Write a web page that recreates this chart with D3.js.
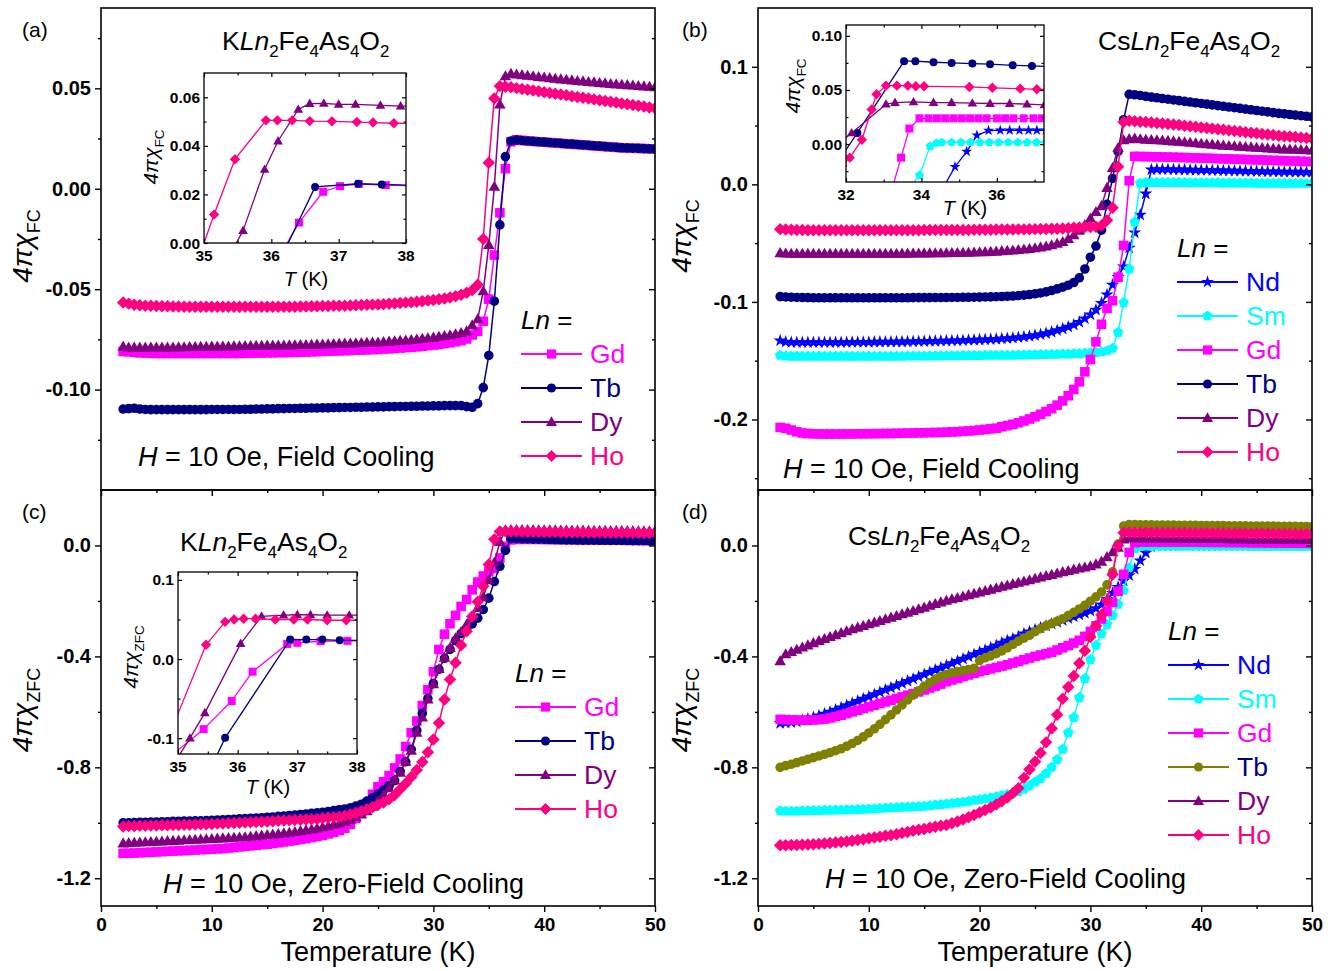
<!DOCTYPE html>
<html>
<head>
<meta charset="utf-8">
<script src="https://cdn.jsdelivr.net/npm/d3@7"></script>
<style>
  html, body { margin: 0; padding: 0; background: #fff; }
  svg { display: block; font-family: "Liberation Sans", Arial, Helvetica, sans-serif; }
</style>
</head>
<body>
<svg id="fig" width="1335" height="971"></svg>
<script>
// ---------------------------------------------------------------------------
// Measurement temperatures (K), shared by all main panels
const temps = [
  2,2.5,3,3.5,4,4.5,5,5.5,6,6.5,
  7,7.5,8,8.5,9,9.5,10,10.5,11,11.5,
  12,12.5,13,13.5,14,14.5,15,15.5,16,16.5,
  17,17.5,18,18.5,19,19.5,20,20.5,21,21.5,
  22,22.5,23,23.5,24,24.5,25,25.5,26,26.5,
  27,27.5,28,28.5,29,29.5,30,30.5,31,31.5,
  32,32.5,33,33.5,34,34.5,35,35.5,36,36.5,
  37,37.5,38,38.5,39,39.5,40,40.5,41,41.5,
  42,42.5,43,43.5,44,44.5,45,45.5,46,46.5,
  47,47.5,48,48.5,49,49.5,50
];

// (a) KLn2Fe4As4O2, field cooling, 4πχ_FC
const aGd = [
  -0.081,-0.0812,-0.0815,-0.0817,-0.0818,-0.0819,-0.082,-0.082,-0.082,-0.082,
  -0.082,-0.082,-0.082,-0.082,-0.082,-0.082,-0.082,-0.082,-0.082,-0.082,
  -0.082,-0.082,-0.0819,-0.0819,-0.0818,-0.0818,-0.0817,-0.0817,-0.0816,-0.0816,
  -0.0815,-0.0815,-0.0814,-0.0813,-0.0812,-0.0811,-0.081,-0.0809,-0.0808,-0.0807,
  -0.0806,-0.0805,-0.0804,-0.0803,-0.0802,-0.0801,-0.08,-0.0798,-0.0797,-0.0795,
  -0.0793,-0.0791,-0.0789,-0.0787,-0.0784,-0.0781,-0.0778,-0.0775,-0.0771,-0.0767,
  -0.0762,-0.0756,-0.0748,-0.0728,-0.071,-0.066,-0.055,-0.033,-0.012,0.01,
  0.0234,0.0244,0.0241,0.0238,0.0236,0.0234,0.0232,0.023,0.0228,0.0226,
  0.0224,0.0222,0.022,0.0218,0.0216,0.0214,0.0212,0.021,0.0208,0.0206,
  0.0204,0.0203,0.0202,0.0201,0.02,0.0199,0.0198
];
const aTb = [
  -0.1097,-0.1095,-0.1093,-0.1097,-0.1099,-0.11,-0.11,-0.11,-0.11,-0.11,
  -0.11,-0.11,-0.11,-0.11,-0.11,-0.11,-0.1099,-0.1099,-0.1099,-0.1099,
  -0.1099,-0.1099,-0.1098,-0.1098,-0.1097,-0.1097,-0.1096,-0.1096,-0.1095,-0.1095,
  -0.1094,-0.1094,-0.1093,-0.1093,-0.1092,-0.1092,-0.1091,-0.1091,-0.109,-0.109,
  -0.1089,-0.1089,-0.1088,-0.1088,-0.1087,-0.1087,-0.1086,-0.1086,-0.1085,-0.1085,
  -0.1084,-0.1084,-0.1083,-0.1083,-0.1082,-0.1082,-0.1081,-0.1081,-0.108,-0.108,
  -0.108,-0.108,-0.1085,-0.1088,-0.107,-0.099,-0.083,-0.056,-0.018,0.016,
  0.0238,0.0242,0.024,0.0238,0.0236,0.0234,0.0232,0.023,0.0228,0.0226,
  0.0224,0.0222,0.022,0.0218,0.0216,0.0214,0.0212,0.021,0.0208,0.0206,
  0.0204,0.0203,0.0202,0.0201,0.02,0.0199,0.0198
];
const aDy = [
  -0.0786,-0.079,-0.0791,-0.0791,-0.0791,-0.079,-0.079,-0.079,-0.079,-0.079,
  -0.0789,-0.0789,-0.0788,-0.0788,-0.0787,-0.0787,-0.0786,-0.0786,-0.0785,-0.0785,
  -0.0784,-0.0784,-0.0783,-0.0783,-0.0782,-0.0782,-0.0781,-0.0781,-0.078,-0.078,
  -0.0779,-0.0779,-0.0778,-0.0778,-0.0777,-0.0776,-0.0775,-0.0774,-0.0773,-0.0772,
  -0.0771,-0.077,-0.0769,-0.0768,-0.0767,-0.0766,-0.0765,-0.0763,-0.0761,-0.0759,
  -0.0757,-0.0755,-0.0753,-0.075,-0.0747,-0.0744,-0.0741,-0.0737,-0.0733,-0.0729,
  -0.0724,-0.0718,-0.071,-0.068,-0.065,-0.051,-0.028,0.001,0.042,0.056,
  0.0572,0.0569,0.0566,0.0563,0.056,0.0557,0.0554,0.0551,0.0548,0.0545,
  0.0543,0.054,0.0537,0.0535,0.0532,0.053,0.0527,0.0525,0.0522,0.052,
  0.0518,0.0516,0.0514,0.0512,0.051,0.0508,0.0506
];
const aHo = [
  -0.0566,-0.0572,-0.0578,-0.058,-0.0582,-0.0583,-0.0584,-0.0585,-0.0585,-0.0586,
  -0.0586,-0.0587,-0.0587,-0.0588,-0.0588,-0.0588,-0.0588,-0.0588,-0.0588,-0.0588,
  -0.0588,-0.0588,-0.0588,-0.0588,-0.0588,-0.0588,-0.0588,-0.0588,-0.0587,-0.0587,
  -0.0587,-0.0587,-0.0586,-0.0586,-0.0585,-0.0585,-0.0584,-0.0584,-0.0583,-0.0583,
  -0.0582,-0.0581,-0.058,-0.0579,-0.0578,-0.0577,-0.0576,-0.0575,-0.0573,-0.0571,
  -0.0569,-0.0567,-0.0565,-0.0563,-0.056,-0.0557,-0.0554,-0.055,-0.0546,-0.0541,
  -0.0535,-0.0528,-0.0518,-0.0505,-0.0478,-0.025,0.013,0.045,0.0511,0.0508,
  0.0505,0.0501,0.0497,0.0493,0.0489,0.0485,0.0481,0.0477,0.0473,0.0469,
  0.0465,0.0461,0.0457,0.0453,0.0449,0.0445,0.0441,0.0437,0.0433,0.0429,
  0.0425,0.0421,0.0417,0.0413,0.0409,0.0405,0.0401
];

// (b) CsLn2Fe4As4O2, field cooling, 4πχ_FC
const bNd = [
  -0.133,-0.134,-0.1345,-0.1345,-0.1345,-0.1345,-0.1345,-0.1345,-0.1345,-0.1345,
  -0.1345,-0.1344,-0.1344,-0.1343,-0.1343,-0.1342,-0.1342,-0.1341,-0.1341,-0.134,
  -0.134,-0.1339,-0.1339,-0.1338,-0.1337,-0.1336,-0.1335,-0.1334,-0.1333,-0.1332,
  -0.1331,-0.133,-0.1329,-0.1328,-0.1326,-0.1324,-0.1322,-0.132,-0.1318,-0.1316,
  -0.1313,-0.131,-0.1306,-0.1302,-0.1297,-0.1291,-0.1284,-0.1276,-0.1267,-0.1256,
  -0.1243,-0.1229,-0.1213,-0.1196,-0.1172,-0.1142,-0.1108,-0.1068,-0.101,-0.0938,
  -0.0855,-0.079,-0.07,-0.054,-0.041,-0.026,-0.008,0.0125,0.0128,0.0127,
  0.0127,0.0126,0.0125,0.0124,0.0123,0.0122,0.0121,0.012,0.0119,0.0118,
  0.0117,0.0116,0.0115,0.0114,0.0113,0.0112,0.0111,0.011,0.0109,0.0108,
  0.0107,0.0106,0.0106,0.0105,0.0105,0.0104,0.0104
];
const bSm = [
  -0.1455,-0.146,-0.1462,-0.1463,-0.1463,-0.1463,-0.1463,-0.1463,-0.1463,-0.1463,
  -0.1463,-0.1463,-0.1463,-0.1463,-0.1463,-0.1463,-0.1463,-0.1463,-0.1463,-0.1463,
  -0.1462,-0.1462,-0.1462,-0.1461,-0.1461,-0.1461,-0.146,-0.146,-0.146,-0.1459,
  -0.1459,-0.1458,-0.1458,-0.1457,-0.1457,-0.1456,-0.1456,-0.1455,-0.1455,-0.1454,
  -0.1454,-0.1453,-0.1453,-0.1452,-0.1451,-0.145,-0.1449,-0.1448,-0.1447,-0.1446,
  -0.1445,-0.1444,-0.1443,-0.1441,-0.1439,-0.1437,-0.1434,-0.1431,-0.1425,-0.1415,
  -0.1395,-0.126,-0.1005,-0.072,-0.032,0.001,0.0016,0.0016,0.0016,0.0016,
  0.0016,0.0015,0.0015,0.0015,0.0014,0.0014,0.0014,0.0013,0.0013,0.0013,
  0.0012,0.0012,0.0012,0.0011,0.0011,0.0011,0.001,0.001,0.001,0.0009,
  0.0009,0.0009,0.0008,0.0008,0.0008,0.0008,0.0008
];
const bGd = [
  -0.2068,-0.2075,-0.209,-0.2105,-0.2115,-0.212,-0.2122,-0.2123,-0.2124,-0.2124,
  -0.2124,-0.2124,-0.2123,-0.2123,-0.2122,-0.2122,-0.2121,-0.2121,-0.212,-0.212,
  -0.2119,-0.2118,-0.2117,-0.2116,-0.2115,-0.2114,-0.2113,-0.2112,-0.2111,-0.211,
  -0.2108,-0.2106,-0.2104,-0.2101,-0.2098,-0.2094,-0.209,-0.2085,-0.208,-0.2074,
  -0.2062,-0.2052,-0.2041,-0.2028,-0.2013,-0.1996,-0.1977,-0.1956,-0.1933,-0.1908,
  -0.1878,-0.1842,-0.1798,-0.1745,-0.168,-0.1595,-0.149,-0.134,-0.119,-0.1055,
  -0.099,-0.079,-0.052,0.003,0.0238,0.0237,0.0236,0.0235,0.0234,0.0233,
  0.0232,0.0231,0.0229,0.0228,0.0226,0.0225,0.0223,0.0222,0.022,0.0219,
  0.0217,0.0216,0.0214,0.0213,0.0211,0.021,0.0208,0.0207,0.0205,0.0204,
  0.0202,0.0201,0.0199,0.0198,0.0196,0.0195,0.0193
];
const bTb = [
  -0.0955,-0.0958,-0.096,-0.0962,-0.0963,-0.0964,-0.0965,-0.0965,-0.0965,-0.0965,
  -0.0965,-0.0965,-0.0965,-0.0965,-0.0965,-0.0965,-0.0965,-0.0965,-0.0965,-0.0965,
  -0.0965,-0.0965,-0.0965,-0.0965,-0.0964,-0.0964,-0.0964,-0.0964,-0.0963,-0.0963,
  -0.0963,-0.0962,-0.0962,-0.0961,-0.0961,-0.096,-0.0959,-0.0958,-0.0957,-0.0956,
  -0.0954,-0.0952,-0.095,-0.0946,-0.0942,-0.0937,-0.0931,-0.0924,-0.0915,-0.0903,
  -0.0889,-0.0875,-0.0858,-0.0835,-0.0795,-0.072,-0.062,-0.0525,-0.039,-0.017,
  0.005,0.028,0.055,0.0766,0.0762,0.0756,0.0748,0.0742,0.0736,0.073,
  0.0724,0.0718,0.0712,0.0706,0.07,0.0694,0.0688,0.0682,0.0676,0.067,
  0.0664,0.0658,0.0652,0.0646,0.064,0.0634,0.0628,0.0622,0.0616,0.061,
  0.0604,0.0599,0.0594,0.0589,0.0584,0.0579,0.0574
];
const bDy = [
  -0.0585,-0.0588,-0.059,-0.059,-0.059,-0.059,-0.059,-0.059,-0.059,-0.059,
  -0.059,-0.059,-0.059,-0.059,-0.059,-0.059,-0.059,-0.059,-0.059,-0.059,
  -0.059,-0.059,-0.0589,-0.0589,-0.0588,-0.0588,-0.0587,-0.0587,-0.0586,-0.0586,
  -0.0585,-0.0584,-0.0583,-0.0582,-0.0581,-0.058,-0.0578,-0.0576,-0.0574,-0.0572,
  -0.0568,-0.0565,-0.0562,-0.0558,-0.0554,-0.0549,-0.0543,-0.0536,-0.0528,-0.0518,
  -0.0505,-0.049,-0.0465,-0.0432,-0.0395,-0.0345,-0.029,-0.0235,-0.0185,-0.003,
  0.014,0.031,0.0375,0.0385,0.039,0.0384,0.038,0.0378,0.0376,0.0373,
  0.037,0.0366,0.0362,0.0358,0.0354,0.035,0.0346,0.0342,0.0338,0.0334,
  0.033,0.0327,0.0324,0.0321,0.0318,0.0315,0.0312,0.0309,0.0306,0.0303,
  0.03,0.0298,0.0296,0.0294,0.0292,0.029,0.0288
];
const bHo = [
  -0.0381,-0.0385,-0.0387,-0.0388,-0.0389,-0.039,-0.039,-0.039,-0.039,-0.039,
  -0.039,-0.039,-0.039,-0.039,-0.039,-0.039,-0.039,-0.039,-0.039,-0.039,
  -0.039,-0.039,-0.039,-0.039,-0.039,-0.039,-0.0389,-0.0389,-0.0389,-0.0389,
  -0.0389,-0.0389,-0.0388,-0.0388,-0.0388,-0.0387,-0.0387,-0.0386,-0.0386,-0.0385,
  -0.0385,-0.0384,-0.0384,-0.0383,-0.0383,-0.0382,-0.0381,-0.038,-0.0379,-0.0378,
  -0.0377,-0.0375,-0.0373,-0.037,-0.0367,-0.0364,-0.0362,-0.036,-0.035,-0.0305,
  -0.02,0.015,0.053,0.054,0.0536,0.0533,0.053,0.0526,0.0522,0.0518,
  0.0514,0.0509,0.0504,0.0499,0.0494,0.0489,0.0484,0.0479,0.0474,0.0469,
  0.0464,0.0459,0.0454,0.0449,0.0444,0.0439,0.0434,0.0429,0.0424,0.0419,
  0.0414,0.041,0.0406,0.0402,0.0398,0.0394,0.039
];

// (c) KLn2Fe4As4O2, zero-field cooling, 4πχ_ZFC
const cGd = [
  -1.11,-1.11,-1.109,-1.108,-1.107,-1.106,-1.105,-1.104,-1.103,-1.102,
  -1.101,-1.1,-1.099,-1.098,-1.097,-1.096,-1.095,-1.094,-1.093,-1.091,
  -1.089,-1.087,-1.085,-1.083,-1.081,-1.079,-1.077,-1.075,-1.072,-1.069,
  -1.066,-1.063,-1.06,-1.057,-1.053,-1.049,-1.045,-1.04,-1.035,-1.028,
  -1.02,-1.005,-0.985,-0.96,-0.93,-0.897,-0.87,-0.852,-0.83,-0.802,
  -0.77,-0.725,-0.675,-0.633,-0.577,-0.52,-0.455,-0.375,-0.32,-0.282,
  -0.252,-0.22,-0.195,-0.16,-0.132,-0.11,-0.095,-0.083,-0.045,-0.003,
  0.02,0.022,0.022,0.022,0.022,0.0218,0.0216,0.0214,0.0212,0.021,
  0.0208,0.0206,0.0204,0.0202,0.02,0.0198,0.0196,0.0194,0.0192,0.019,
  0.0188,0.0186,0.0184,0.0182,0.018,0.0178,0.0176
];
const cTb = [
  -1.0,-1.0,-0.999,-0.998,-0.998,-0.997,-0.997,-0.996,-0.996,-0.995,
  -0.995,-0.994,-0.994,-0.993,-0.993,-0.992,-0.991,-0.99,-0.989,-0.988,
  -0.987,-0.986,-0.985,-0.984,-0.983,-0.982,-0.98,-0.979,-0.977,-0.976,
  -0.974,-0.972,-0.97,-0.968,-0.966,-0.964,-0.962,-0.959,-0.956,-0.953,
  -0.95,-0.946,-0.94,-0.933,-0.922,-0.91,-0.897,-0.882,-0.866,-0.848,
  -0.815,-0.78,-0.735,-0.667,-0.605,-0.552,-0.498,-0.447,-0.407,-0.375,
  -0.343,-0.318,-0.3,-0.283,-0.262,-0.231,-0.19,-0.13,-0.075,-0.018,
  0.0246,0.0245,0.024,0.0235,0.023,0.0225,0.022,0.0215,0.021,0.0205,
  0.02,0.0198,0.0196,0.0194,0.0192,0.019,0.0188,0.0186,0.0184,0.0182,
  0.018,0.0178,0.0176,0.0174,0.0172,0.017,0.0168
];
const cDy = [
  -1.074,-1.073,-1.072,-1.071,-1.07,-1.069,-1.068,-1.067,-1.066,-1.065,
  -1.064,-1.063,-1.062,-1.061,-1.06,-1.059,-1.058,-1.057,-1.056,-1.055,
  -1.054,-1.053,-1.052,-1.05,-1.048,-1.046,-1.044,-1.042,-1.04,-1.038,
  -1.036,-1.033,-1.03,-1.027,-1.024,-1.02,-1.016,-1.012,-1.007,-1.002,
  -0.996,-0.989,-0.98,-0.97,-0.958,-0.942,-0.922,-0.9,-0.875,-0.847,
  -0.819,-0.78,-0.74,-0.675,-0.62,-0.555,-0.5,-0.445,-0.405,-0.369,
  -0.335,-0.312,-0.285,-0.256,-0.225,-0.186,-0.125,-0.061,0.013,0.055,
  0.0555,0.056,0.0558,0.0556,0.0554,0.0552,0.055,0.0548,0.0546,0.0544,
  0.0542,0.054,0.0538,0.0536,0.0534,0.0532,0.053,0.0528,0.0526,0.0524,
  0.0522,0.052,0.0518,0.0516,0.0514,0.0512,0.051
];
const cHo = [
  -1.013,-1.012,-1.012,-1.011,-1.011,-1.01,-1.01,-1.009,-1.009,-1.008,
  -1.008,-1.007,-1.007,-1.006,-1.005,-1.005,-1.004,-1.003,-1.003,-1.002,
  -1.001,-1.0,-0.999,-0.998,-0.997,-0.996,-0.995,-0.994,-0.993,-0.992,
  -0.991,-0.99,-0.989,-0.988,-0.987,-0.986,-0.984,-0.982,-0.98,-0.978,
  -0.975,-0.97,-0.965,-0.958,-0.951,-0.944,-0.936,-0.927,-0.915,-0.9,
  -0.879,-0.858,-0.835,-0.81,-0.781,-0.746,-0.7,-0.64,-0.555,-0.483,
  -0.423,-0.36,-0.309,-0.256,-0.203,-0.147,-0.069,0.022,0.05,0.051,
  0.05,0.05,0.0498,0.0495,0.049,0.0488,0.0486,0.0484,0.0482,0.048,
  0.0478,0.0476,0.0474,0.0472,0.047,0.0468,0.0466,0.0464,0.0462,0.046,
  0.0458,0.0456,0.0454,0.0452,0.045,0.0448,0.0446
];

// (d) CsLn2Fe4As4O2, zero-field cooling, 4πχ_ZFC
const dNd = [
  -0.641,-0.64,-0.638,-0.635,-0.631,-0.626,-0.62,-0.614,-0.607,-0.6,
  -0.593,-0.585,-0.577,-0.569,-0.561,-0.553,-0.545,-0.537,-0.529,-0.521,
  -0.513,-0.505,-0.497,-0.489,-0.481,-0.473,-0.465,-0.457,-0.449,-0.441,
  -0.433,-0.425,-0.417,-0.409,-0.401,-0.393,-0.385,-0.377,-0.369,-0.361,
  -0.351,-0.343,-0.336,-0.329,-0.318,-0.311,-0.304,-0.297,-0.29,-0.283,
  -0.276,-0.27,-0.263,-0.257,-0.25,-0.244,-0.236,-0.227,-0.213,-0.194,
  -0.172,-0.15,-0.128,-0.108,-0.085,-0.055,-0.027,-0.004,0.0,0.0,
  0.0,0.0,0.0,0.0,0.0,0.0,0.0,0.0,0.0,0.0,
  0.0,0.0,0.0,0.0,0.0,0.0,0.0,0.0,0.0,0.0,
  0.0,0.0,0.0,0.0,0.0,0.0,0.0
];
const dSm = [
  -0.957,-0.958,-0.958,-0.958,-0.957,-0.957,-0.956,-0.956,-0.955,-0.955,
  -0.954,-0.954,-0.953,-0.953,-0.952,-0.951,-0.95,-0.949,-0.948,-0.947,
  -0.946,-0.945,-0.944,-0.943,-0.942,-0.941,-0.94,-0.938,-0.936,-0.934,
  -0.932,-0.93,-0.928,-0.925,-0.922,-0.919,-0.916,-0.913,-0.91,-0.906,
  -0.902,-0.898,-0.893,-0.887,-0.878,-0.866,-0.853,-0.84,-0.822,-0.8,
  -0.772,-0.735,-0.675,-0.62,-0.548,-0.48,-0.411,-0.36,-0.318,-0.285,
  -0.253,-0.212,-0.162,-0.08,-0.012,-0.002,-0.002,-0.002,-0.002,-0.002,
  -0.002,-0.002,-0.002,-0.002,-0.002,-0.002,-0.002,-0.002,-0.002,-0.002,
  -0.002,-0.002,-0.002,-0.002,-0.002,-0.003,-0.003,-0.003,-0.003,-0.003,
  -0.003,-0.003,-0.003,-0.003,-0.003,-0.003,-0.003
];
const dGd = [
  -0.627,-0.628,-0.629,-0.63,-0.63,-0.63,-0.629,-0.628,-0.626,-0.622,
  -0.617,-0.612,-0.606,-0.6,-0.594,-0.588,-0.582,-0.576,-0.57,-0.564,
  -0.558,-0.552,-0.546,-0.54,-0.534,-0.528,-0.521,-0.514,-0.507,-0.5,
  -0.491,-0.485,-0.479,-0.473,-0.467,-0.461,-0.455,-0.45,-0.445,-0.44,
  -0.435,-0.43,-0.424,-0.418,-0.412,-0.406,-0.4,-0.395,-0.39,-0.385,
  -0.377,-0.369,-0.361,-0.352,-0.342,-0.328,-0.31,-0.29,-0.265,-0.238,
  -0.205,-0.165,-0.104,-0.025,0.01,0.012,0.012,0.012,0.012,0.012,
  0.012,0.012,0.012,0.012,0.012,0.0118,0.0116,0.0114,0.0112,0.011,
  0.0108,0.0106,0.0104,0.0102,0.01,0.0098,0.0096,0.0094,0.0092,0.009,
  0.0088,0.0086,0.0084,0.0082,0.008,0.0078,0.0076
];
const dTb = [
  -0.8,-0.794,-0.789,-0.783,-0.777,-0.771,-0.765,-0.759,-0.753,-0.747,
  -0.74,-0.733,-0.724,-0.714,-0.703,-0.69,-0.676,-0.661,-0.645,-0.628,
  -0.611,-0.593,-0.575,-0.557,-0.54,-0.524,-0.508,-0.494,-0.482,-0.472,
  -0.465,-0.459,-0.455,-0.451,-0.447,-0.443,-0.415,-0.405,-0.398,-0.39,
  -0.38,-0.369,-0.357,-0.345,-0.334,-0.324,-0.311,-0.3,-0.29,-0.282,
  -0.273,-0.264,-0.253,-0.241,-0.229,-0.216,-0.201,-0.185,-0.168,-0.142,
  -0.095,0.005,0.07,0.075,0.075,0.0748,0.0745,0.0742,0.074,0.0738,
  0.0735,0.0732,0.073,0.0728,0.0726,0.0724,0.0722,0.072,0.0718,0.0716,
  0.0714,0.0712,0.071,0.0708,0.0706,0.0704,0.0702,0.07,0.0698,0.0696,
  0.0694,0.0692,0.069,0.0688,0.0686,0.0684,0.0682
];
const dDy = [
  -0.417,-0.392,-0.384,-0.376,-0.368,-0.36,-0.352,-0.344,-0.337,-0.33,
  -0.323,-0.316,-0.309,-0.302,-0.296,-0.29,-0.284,-0.278,-0.272,-0.266,
  -0.26,-0.254,-0.248,-0.242,-0.236,-0.23,-0.224,-0.217,-0.211,-0.205,
  -0.199,-0.194,-0.189,-0.184,-0.179,-0.174,-0.169,-0.164,-0.159,-0.154,
  -0.149,-0.144,-0.139,-0.134,-0.13,-0.125,-0.12,-0.115,-0.11,-0.106,
  -0.101,-0.096,-0.092,-0.087,-0.083,-0.079,-0.075,-0.068,-0.058,-0.042,
  -0.024,-0.008,0.022,0.026,0.026,0.026,0.025,0.025,0.025,0.025,
  0.025,0.025,0.0248,0.0246,0.0244,0.0242,0.024,0.0238,0.0236,0.0234,
  0.0232,0.023,0.0228,0.0226,0.0224,0.0222,0.022,0.0218,0.0216,0.0214,
  0.0212,0.021,0.0208,0.0206,0.0204,0.0202,0.02
];
const dHo = [
  -1.081,-1.081,-1.08,-1.08,-1.079,-1.078,-1.077,-1.076,-1.075,-1.073,
  -1.071,-1.069,-1.067,-1.065,-1.062,-1.059,-1.056,-1.053,-1.05,-1.047,
  -1.045,-1.041,-1.037,-1.033,-1.029,-1.025,-1.022,-1.018,-1.014,-1.011,
  -1.008,-1.002,-0.995,-0.988,-0.98,-0.972,-0.963,-0.954,-0.945,-0.934,
  -0.922,-0.909,-0.893,-0.875,-0.838,-0.808,-0.78,-0.748,-0.71,-0.66,
  -0.61,-0.553,-0.51,-0.471,-0.425,-0.38,-0.33,-0.29,-0.25,-0.2,
  -0.105,0.0,0.046,0.047,0.047,0.047,0.047,0.047,0.046,0.046,
  0.046,0.046,0.0458,0.0456,0.0454,0.0452,0.045,0.0448,0.0446,0.0444,
  0.0442,0.044,0.0438,0.0436,0.0434,0.0432,0.043,0.0428,0.0426,0.0424,
  0.0422,0.042,0.0418,0.0416,0.0414,0.0412,0.041
];

// Insets: close-ups of the transition, [T (K), 4πχ] pairs
const iaGd = [[36.0,-0.0115],[36.41,0.0084],[36.77,0.0211],[37.02,0.0234],[37.3,0.0243],[37.7,0.0238],[38.1,0.0236]];
const iaTb = [[36.05,-0.0116],[36.65,0.0231],[37.29,0.0244],[37.64,0.0241],[38.1,0.0238]];
const iaDy = [[35.3,-0.0092],[35.58,0.0051],[35.9,0.0303],[36.1,0.042],[36.4,0.055],[36.57,0.0574],[36.78,0.0575],[37.0,0.0571],[37.25,0.0571],[37.62,0.0567],[37.92,0.0564],[38.1,0.0563]];
const iaHo = [[34.85,-0.0117],[35.15,0.0117],[35.46,0.0345],[35.92,0.0505],[36.09,0.0505],[36.31,0.0505],[36.57,0.0502],[36.9,0.0501],[37.27,0.0498],[37.51,0.0496],[37.82,0.0493],[38.1,0.0492]];

const ibNd = [[34.45,-0.048],[34.89,-0.021],[35.2,-0.0069],[35.47,0.0081],[35.78,0.0125],[36.09,0.0128],[36.34,0.0128],[36.6,0.0128],[36.84,0.0128],[37.06,0.0128],[37.3,0.0128]];
const ibSm = [[33.4,-0.0525],[33.95,-0.0287],[34.23,-0.0019],[34.4,0.0009],[34.54,0.0016],[34.8,0.0016],[35.05,0.0016],[35.3,0.0016],[35.55,0.0016],[35.8,0.0016],[36.05,0.0016],[36.3,0.0016],[36.55,0.0016],[36.8,0.0016],[37.05,0.0016],[37.3,0.0016]];
const ibGd = [[33.15,-0.05],[33.46,-0.0125],[33.68,0.0144],[33.95,0.0238],[34.19,0.0238],[34.41,0.0238],[34.63,0.0238],[34.85,0.0238],[35.07,0.0238],[35.29,0.0238],[35.51,0.0238],[35.73,0.0238],[36.0,0.0238],[36.22,0.0238],[36.44,0.0238],[36.71,0.0238],[36.97,0.0238],[37.19,0.0238]];
const ibTb = [[31.9,-0.0105],[32.3,0.0103],[33.54,0.0766],[33.84,0.0766],[34.32,0.0756],[34.8,0.075],[35.35,0.0744],[35.82,0.0738],[36.42,0.0728],[36.93,0.0722],[37.4,0.0716]];
const ibDy = [[31.9,0.003],[32.15,0.0103],[33.06,0.0369],[33.3,0.0384],[33.79,0.039],[34.32,0.0384],[34.8,0.0384],[35.35,0.0378],[35.82,0.0375],[36.34,0.0375],[36.8,0.0369],[37.26,0.0363]];
const ibHo = [[31.9,-0.02],[32.1,-0.0125],[32.42,0.004],[32.68,0.032],[32.81,0.046],[33.06,0.054],[33.35,0.054],[33.64,0.054],[33.85,0.0534],[34.07,0.0534],[35.27,0.0528],[35.88,0.052],[36.62,0.0512],[37.06,0.0506],[37.4,0.0503]];

const icGd = [[34.95,-0.118],[35.43,-0.0886],[35.9,-0.053],[36.25,-0.016],[36.83,0.019],[37.0,0.0205],[37.39,0.0225],[37.84,0.023],[38.1,0.023]];
const icTb = [[35.6,-0.13],[35.79,-0.0996],[36.88,0.0246],[37.15,0.0246],[37.42,0.0246],[37.71,0.0237],[38.1,0.0237]];
const icDy = [[34.95,-0.13],[35.2,-0.1],[35.45,-0.068],[36.05,0.0195],[36.4,0.054],[36.77,0.0555],[37.0,0.056],[37.22,0.056],[37.5,0.0555],[37.87,0.0555],[38.1,0.0553]];
const icHo = [[34.9,-0.0875],[35.47,0.018],[35.79,0.047],[35.94,0.05],[36.1,0.051],[36.3,0.051],[36.63,0.05],[36.94,0.05],[37.17,0.05],[37.5,0.049],[37.82,0.049],[38.1,0.049]];

// Tick values
const xMajor = [0, 10, 20, 30, 40, 50];
const xMinor = [5, 15, 25, 35, 45];
const aYMajor = [0.05, 0, -0.05, -0.1],  aYMinor = [0.075, 0.025, -0.025, -0.075, -0.125];
const bYMajor = [0.1, 0, -0.1, -0.2],    bYMinor = [0.05, -0.05, -0.15, -0.25];
const cdYMajor = [0, -0.4, -0.8, -1.2],  cdYMinor = [-0.2, -0.6, -1.0];
const iaX = [35, 36, 37, 38], iaXm = [35.5, 36.5, 37.5], iaY = [0, 0.02, 0.04, 0.06], iaYm = [0.01, 0.03, 0.05];
const ibX = [32, 34, 36], ibXm = [33, 35, 37], ibY = [0, 0.05, 0.1], ibYm = [-0.025, 0.025, 0.075];
const icX = [35, 36, 37, 38], icXm = [35.5, 36.5, 37.5], icY = [-0.1, 0, 0.1], icYm = [-0.05, 0.05];

// ---------------------------------------------------------------------------
const STYLE = {
  Nd: { color: "#0000ff", mark: "star" },
  Sm: { color: "#00ffff", mark: "pentagon" },
  Gd: { color: "#ff00ff", mark: "square" },
  Tb: { color: "#000080", mark: "circle" },
  Dy: { color: "#800080", mark: "triangle" },
  Ho: { color: "#ff0080", mark: "diamond" }
};
const OLIVE = "#808000";

function markerPath(kind, r) {
  if (kind === "square") return `M${-r},${-r}H${r}V${r}H${-r}Z`;
  if (kind === "circle") return `M${r},0A${r},${r},0,1,1,${-r},0A${r},${r},0,1,1,${r},0Z`;
  if (kind === "triangle") {
    const t = -1.25 * r, b = 0.85 * r, w = 1.2 * r;
    return `M0,${t}L${w},${b}L${-w},${b}Z`;
  }
  if (kind === "diamond") {
    const d = 1.3 * r;
    return `M0,${-d}L${d},0L0,${d}L${-d},0Z`;
  }
  const star = kind === "star";
  const n = star ? 10 : 5, R = star ? 1.45 * r : 1.15 * r, rin = 0.55 * r;
  let s = "";
  for (let k = 0; k < n; k++) {
    const a = -Math.PI / 2 + k * 2 * Math.PI / n;
    const rr = star ? (k % 2 ? rin : R) : R;
    s += (k ? "L" : "M") + (rr * Math.cos(a)).toFixed(2) + "," + (rr * Math.sin(a)).toFixed(2);
  }
  return s + "Z";
}

const svg = d3.select("#fig");
const defs = svg.append("defs");
let clipCount = 0;

function clipRect(x0, y0, x1, y1) {
  const id = "clip" + (clipCount++);
  defs.append("clipPath").attr("id", id)
    .append("rect").attr("x", x0).attr("y", y0).attr("width", x1 - x0).attr("height", y1 - y0);
  return `url(#${id})`;
}

function drawSeries(g, x, y, pts, color, mark, r, lw) {
  g.append("path").datum(pts)
    .attr("fill", "none").attr("stroke", color).attr("stroke-width", lw)
    .attr("stroke-linejoin", "round")
    .attr("d", d3.line().x(d => x(d[0])).y(d => y(d[1])));
  g.append("g").selectAll("path").data(pts).enter().append("path")
    .attr("d", markerPath(mark, r))
    .attr("transform", d => `translate(${x(d[0])},${y(d[1])})`)
    .attr("fill", color);
}

// Rich text with italic parts and subscripts
function rich(parent, x, y, parts, size, opts = {}) {
  const t = parent.append("text")
    .attr("x", x).attr("y", y)
    .attr("font-size", size)
    .attr("fill", opts.fill || "#000")
    .attr("text-anchor", opts.anchor || "start");
  if (opts.rotate) t.attr("transform", `rotate(-90,${x},${y})`);
  let shift = 0;
  parts.forEach(p => {
    const target = p.sub ? size * 0.28 : 0;
    const ts = t.append("tspan").text(p.t).attr("dy", target - shift);
    shift = target;
    if (p.sub) ts.attr("font-size", size * 0.64);
    if (p.i) ts.attr("font-style", "italic");
  });
  return t;
}

function styleAxis(g, fontSize, lw) {
  g.select(".domain").remove();
  g.attr("font-family", null).attr("font-size", null);
  g.selectAll(".tick line").attr("stroke", "#000").attr("stroke-width", lw);
  g.selectAll(".tick text")
    .attr("fill", "#000")
    .attr("font-size", fontSize)
    .attr("font-weight", "bold");
}

// Main panel
function drawPanel(p) {
  const x = d3.scaleLinear().domain([0, 50]).range([p.x0, p.x1]);
  const y = d3.scaleLinear().domain(p.yDomain).range([p.y1, p.y0]);

  const data = svg.append("g").attr("clip-path", clipRect(p.x0, p.y0, p.x1, p.y1));
  p.series.forEach(s => {
    const st = STYLE[s.name];
    const pts = temps.map((t, i) => [t, s.values[i]]).filter(d => d[1] !== undefined);
    drawSeries(data, x, y, pts, s.color || st.color, st.mark, 4.8, 1.5);
  });

  const lw = 1.4;
  // left axis: outward ticks with labels
  styleAxis(svg.append("g").attr("transform", `translate(${p.x0},0)`)
    .call(d3.axisLeft(y).tickValues(p.yMajor).tickSize(6).tickSizeOuter(0).tickPadding(4)
      .tickFormat(d => d.toFixed(p.dec))), 20, lw);
  styleAxis(svg.append("g").attr("transform", `translate(${p.x0},0)`)
    .call(d3.axisLeft(y).tickValues(p.yMinor).tickSize(3).tickSizeOuter(0).tickFormat("")), 20, lw);
  // right axis: inward ticks
  styleAxis(svg.append("g").attr("transform", `translate(${p.x1},0)`)
    .call(d3.axisLeft(y).tickValues(p.yMajor).tickSize(6).tickSizeOuter(0).tickFormat("")), 20, lw);
  styleAxis(svg.append("g").attr("transform", `translate(${p.x1},0)`)
    .call(d3.axisLeft(y).tickValues(p.yMinor).tickSize(3).tickSizeOuter(0).tickFormat("")), 20, lw);
  // bottom axis
  styleAxis(svg.append("g").attr("transform", `translate(0,${p.y1})`)
    .call(d3.axisBottom(x).tickValues(xMajor).tickSize(6).tickSizeOuter(0).tickPadding(6)
      .tickFormat(p.xLabels ? d3.format("d") : "")), 19, lw);
  styleAxis(svg.append("g").attr("transform", `translate(0,${p.y1})`)
    .call(d3.axisBottom(x).tickValues(xMinor).tickSize(3).tickSizeOuter(0).tickFormat("")), 19, lw);

  svg.append("rect")
    .attr("x", p.x0).attr("y", p.y0).attr("width", p.x1 - p.x0).attr("height", p.y1 - p.y0)
    .attr("fill", "none").attr("stroke", "#000").attr("stroke-width", 1.6);

  // panel tag
  svg.append("text").attr("x", p.tag[1]).attr("y", p.tag[2]).attr("font-size", 21).text(p.tag[0]);

  // y-axis title
  rich(svg, p.yTitle[0], p.yTitle[1], [{ t: "4πχ", i: true }, { t: p.yTitle[2], sub: true }], 28,
    { anchor: "middle", rotate: true });

  // x-axis title
  if (p.xLabels) {
    svg.append("text").attr("x", (p.x0 + p.x1) / 2).attr("y", 961)
      .attr("text-anchor", "middle").attr("font-size", 27).text("Temperature (K)");
  }

  // compound name
  rich(svg, p.name[0], p.name[1],
    [{ t: p.cation }, { t: "Ln", i: true }, { t: "2", sub: true }, { t: "Fe" }, { t: "4", sub: true },
     { t: "As" }, { t: "4", sub: true }, { t: "O" }, { t: "2", sub: true }], 26.5);

  // measurement condition
  rich(svg, p.cond[0], p.cond[1], [{ t: "H", i: true }, { t: " = 10 Oe, " + p.cond[2] }], 27);

  // legend
  const L = p.legend;
  rich(svg, L.x, L.y0 + 9, [{ t: "Ln", i: true }, { t: " =" }], 26);
  p.series.forEach((s, k) => {
    const st = STYLE[s.name];
    const col = s.color || st.color;
    const yy = L.y0 + 34 * (k + 1);
    svg.append("line").attr("x1", L.x).attr("x2", L.x + 61).attr("y1", yy).attr("y2", yy)
      .attr("stroke", col).attr("stroke-width", 1.8);
    svg.append("path").attr("d", markerPath(st.mark, 4.6))
      .attr("transform", `translate(${L.x + 30.5},${yy})`).attr("fill", col);
    svg.append("text").attr("x", L.x + 69).attr("y", yy + 9).attr("font-size", 26.5)
      .attr("fill", s.labelColor || st.color).text(s.name);
  });
}

// Inset panel
function drawInset(q) {
  const x = d3.scaleLinear().domain(q.xDomain).range([q.x0, q.x1]);
  const y = d3.scaleLinear().domain(q.yDomain).range([q.y1, q.y0]);
  svg.append("rect").attr("x", q.x0).attr("y", q.y0).attr("width", q.x1 - q.x0).attr("height", q.y1 - q.y0)
    .attr("fill", "#fff");
  const data = svg.append("g").attr("clip-path", clipRect(q.x0, q.y0, q.x1, q.y1));
  q.series.forEach(s => {
    const st = STYLE[s.name];
    drawSeries(data, x, y, s.pts, st.color, st.mark, 4.0, 1.3);
  });
  const lw = 1.2;
  // inward ticks on all four sides
  styleAxis(svg.append("g").attr("transform", `translate(${q.x0},0)`)
    .call(d3.axisRight(y).tickValues(q.yMajor).tickSize(4).tickSizeOuter(0).tickFormat("")), 15, lw);
  styleAxis(svg.append("g").attr("transform", `translate(${q.x0},0)`)
    .call(d3.axisRight(y).tickValues(q.yMinor).tickSize(2.5).tickSizeOuter(0).tickFormat("")), 15, lw);
  styleAxis(svg.append("g").attr("transform", `translate(${q.x1},0)`)
    .call(d3.axisLeft(y).tickValues(q.yMajor).tickSize(4).tickSizeOuter(0).tickFormat("")), 15, lw);
  styleAxis(svg.append("g").attr("transform", `translate(${q.x1},0)`)
    .call(d3.axisLeft(y).tickValues(q.yMinor).tickSize(2.5).tickSizeOuter(0).tickFormat("")), 15, lw);
  styleAxis(svg.append("g").attr("transform", `translate(0,${q.y1})`)
    .call(d3.axisTop(x).tickValues(q.xMajor).tickSize(4).tickSizeOuter(0).tickFormat("")), 15, lw);
  styleAxis(svg.append("g").attr("transform", `translate(0,${q.y1})`)
    .call(d3.axisTop(x).tickValues(q.xMinor).tickSize(2.5).tickSizeOuter(0).tickFormat("")), 15, lw);
  styleAxis(svg.append("g").attr("transform", `translate(0,${q.y0})`)
    .call(d3.axisBottom(x).tickValues(q.xMajor).tickSize(4).tickSizeOuter(0).tickFormat("")), 15, lw);
  styleAxis(svg.append("g").attr("transform", `translate(0,${q.y0})`)
    .call(d3.axisBottom(x).tickValues(q.xMinor).tickSize(2.5).tickSizeOuter(0).tickFormat("")), 15, lw);
  // tick labels
  svg.append("g").selectAll("text").data(q.yMajor).enter().append("text")
    .attr("x", q.x0 - 4).attr("y", d => y(d) + 5.5)
    .attr("text-anchor", "end").attr("font-size", 15.5).attr("font-weight", "bold")
    .text(d => d.toFixed(q.dec));
  svg.append("g").selectAll("text").data(q.xMajor).enter().append("text")
    .attr("x", d => x(d)).attr("y", q.y1 + 18)
    .attr("text-anchor", "middle").attr("font-size", 15.5).attr("font-weight", "bold")
    .text(d => d3.format("d")(d));
  svg.append("rect").attr("x", q.x0).attr("y", q.y0).attr("width", q.x1 - q.x0).attr("height", q.y1 - q.y0)
    .attr("fill", "none").attr("stroke", "#000").attr("stroke-width", 1.3);
  rich(svg, q.yTitle[0], q.yTitle[1], [{ t: "4πχ", i: true }, { t: q.yTitle[2], sub: true }], 21,
    { anchor: "middle", rotate: true });
  rich(svg, q.xTitle[0], q.xTitle[1], [{ t: "T", i: true }, { t: " (K)" }], 20, { anchor: "middle" });
}

// ---------------------------------------------------------------------------
drawPanel({
  x0: 101, x1: 655, y0: 8, y1: 490, yDomain: [-0.15, 0.09],
  yMajor: aYMajor, yMinor: aYMinor, dec: 2, xLabels: false,
  series: [{ name: "Gd", values: aGd }, { name: "Tb", values: aTb }, { name: "Dy", values: aDy }, { name: "Ho", values: aHo }],
  tag: ["(a)", 22, 37], yTitle: [32, 246, "FC"], cation: "K", name: [222, 50],
  cond: [138, 466, "Field Cooling"], legend: { x: 521, y0: 320 }
});
drawPanel({
  x0: 758, x1: 1312, y0: 8, y1: 490, yDomain: [-0.26, 0.15],
  yMajor: bYMajor, yMinor: bYMinor, dec: 1, xLabels: false,
  series: [{ name: "Nd", values: bNd }, { name: "Sm", values: bSm }, { name: "Gd", values: bGd },
           { name: "Tb", values: bTb }, { name: "Dy", values: bDy }, { name: "Ho", values: bHo }],
  tag: ["(b)", 682, 37], yTitle: [691, 236, "FC"], cation: "Cs", name: [1098, 50],
  cond: [783, 478, "Field Cooling"], legend: { x: 1177, y0: 248 }
});
drawPanel({
  x0: 101, x1: 655, y0: 490, y1: 906, yDomain: [-1.3, 0.2],
  yMajor: cdYMajor, yMinor: cdYMinor, dec: 1, xLabels: true,
  series: [{ name: "Gd", values: cGd }, { name: "Tb", values: cTb }, { name: "Dy", values: cDy }, { name: "Ho", values: cHo }],
  tag: ["(c)", 22, 519], yTitle: [32, 710, "ZFC"], cation: "K", name: [180, 551],
  cond: [163, 893, "Zero-Field Cooling"], legend: { x: 515, y0: 673 }
});
drawPanel({
  x0: 758, x1: 1312, y0: 490, y1: 906, yDomain: [-1.3, 0.2],
  yMajor: cdYMajor, yMinor: cdYMinor, dec: 1, xLabels: true,
  series: [{ name: "Nd", values: dNd }, { name: "Sm", values: dSm }, { name: "Gd", values: dGd },
           { name: "Tb", values: dTb, color: OLIVE }, { name: "Dy", values: dDy }, { name: "Ho", values: dHo }],
  tag: ["(d)", 682, 519], yTitle: [691, 710, "ZFC"], cation: "Cs", name: [848, 545],
  cond: [825, 888, "Zero-Field Cooling"], legend: { x: 1168, y0: 631 }
});

drawInset({
  x0: 204, x1: 406, y0: 73, y1: 243, xDomain: [35, 38], yDomain: [0, 0.07],
  xMajor: iaX, xMinor: iaXm, yMajor: iaY, yMinor: iaYm, dec: 2,
  series: [{ name: "Gd", pts: iaGd }, { name: "Tb", pts: iaTb }, { name: "Dy", pts: iaDy }, { name: "Ho", pts: iaHo }],
  yTitle: [158, 157, "FC"], xTitle: [306, 286]
});
drawInset({
  x0: 846, x1: 1044, y0: 25, y1: 182, xDomain: [32, 37.25], yDomain: [-0.035, 0.11],
  xMajor: ibX, xMinor: ibXm, yMajor: ibY, yMinor: ibYm, dec: 2,
  series: [{ name: "Nd", pts: ibNd }, { name: "Sm", pts: ibSm }, { name: "Gd", pts: ibGd },
           { name: "Tb", pts: ibTb }, { name: "Dy", pts: ibDy }, { name: "Ho", pts: ibHo }],
  yTitle: [800, 86, "FC"], xTitle: [965, 215]
});
drawInset({
  x0: 178, x1: 357, y0: 572, y1: 754, xDomain: [35, 38], yDomain: [-0.12, 0.11],
  xMajor: icX, xMinor: icXm, yMajor: icY, yMinor: icYm, dec: 1,
  series: [{ name: "Gd", pts: icGd }, { name: "Tb", pts: icTb }, { name: "Dy", pts: icDy }, { name: "Ho", pts: icHo }],
  yTitle: [138, 657, "ZFC"], xTitle: [268, 794]
});
</script>
</body>
</html>
